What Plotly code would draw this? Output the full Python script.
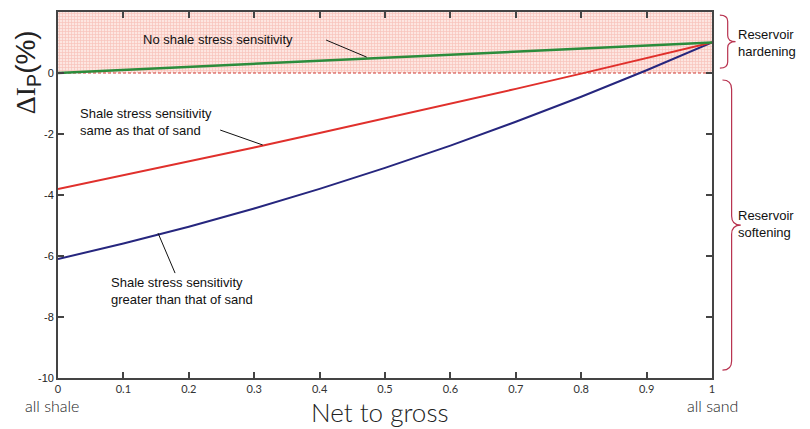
import plotly.graph_objects as go

# ---- data ----
net_to_gross = [0.0, 0.1, 0.2, 0.3, 0.4, 0.5, 0.6, 0.7, 0.8, 0.9, 1.0]
no_shale_sens = [0.0, 0.1, 0.2, 0.3, 0.4, 0.5, 0.6, 0.7, 0.8, 0.9, 1.0]
same_as_sand = [-3.80, -3.35, -2.90, -2.44, -1.97, -1.49, -1.01, -0.52, -0.02, 0.49, 1.0]
greater_than_sand = [-6.10, -5.59, -5.04, -4.44, -3.80, -3.11, -2.38, -1.60, -0.78, 0.09, 1.0]

x_ticks = [0, 0.1, 0.2, 0.3, 0.4, 0.5, 0.6, 0.7, 0.8, 0.9, 1]
x_tick_labels = ["0", "0.1", "0.2", "0.3", "0.4", "0.5", "0.6", "0.7", "0.8", "0.9", "1"]
y_ticks = [-10, -8, -6, -4, -2, 0, 2]
y_tick_labels = ["-10", "-8", "-6", "-4", "-2", "0", "2"]

hardening_x = [0, 1, 1, 0, 0]
hardening_y = [0, 0, 2, 2, 0]

GREEN = "#2b8c3c"
RED = "#e0302c"
BLUE = "#26267e"
BRACE = "#b8324f"

fig = go.Figure()

# shaded "hardening" region
fig.add_trace(go.Scatter(
    x=hardening_x, y=hardening_y, mode="lines", fill="toself",
    line=dict(width=0), fillcolor="rgba(0,0,0,0)",
    fillpattern=dict(shape="+", fgcolor="rgba(235,110,95,0.6)",
                     bgcolor="#fde6e1", size=3, solidity=0.4),
    hoverinfo="skip", showlegend=False))

# zero dashed line
fig.add_trace(go.Scatter(
    x=[0, 1], y=[0, 0], mode="lines",
    line=dict(color="#d03a34", width=1.2, dash="3px,2px"),
    showlegend=False, hoverinfo="skip"))

fig.add_trace(go.Scatter(x=net_to_gross, y=greater_than_sand, mode="lines",
                         line=dict(color=BLUE, width=2), showlegend=False))
fig.add_trace(go.Scatter(x=net_to_gross, y=same_as_sand, mode="lines",
                         line=dict(color=RED, width=2), showlegend=False))
fig.add_trace(go.Scatter(x=net_to_gross, y=no_shale_sens, mode="lines",
                         line=dict(color=GREEN, width=2.5), showlegend=False))

ann_font = dict(family="Liberation Sans, Arial", size=13, color="#111")
annotations = [
    dict(x=0.127, y=1.11, xref="x", yref="y", text="No shale stress sensitivity",
         showarrow=False, xanchor="left", yanchor="middle", font=ann_font),
    dict(x=0.031, y=-1.61, xref="x", yref="y",
         text="Shale stress sensitivity<br>same as that of sand",
         showarrow=False, xanchor="left", yanchor="middle", align="left", font=ann_font),
    dict(x=0.078, y=-7.15, xref="x", yref="y",
         text="Shale stress sensitivity<br>greater than that of sand",
         showarrow=False, xanchor="left", yanchor="middle", align="left", font=ann_font),
    dict(x=1.037, y=0.915, xref="paper", yref="paper", text="Reservoir<br>hardening",
         showarrow=False, xanchor="left", yanchor="middle", align="left", font=ann_font),
    dict(x=1.037, y=0.421, xref="paper", yref="paper", text="Reservoir<br>softening",
         showarrow=False, xanchor="left", yanchor="middle", align="left", font=ann_font),
    dict(x=0.492, y=-0.093, xref="paper", yref="paper", text="Net to gross",
         showarrow=False, xanchor="center", yanchor="middle",
         font=dict(family="Lato", size=26, color="#222", weight=300)),
    dict(x=-0.009, y=-0.0765, xref="paper", yref="paper", text="all shale",
         showarrow=False, xanchor="center", yanchor="middle",
         font=dict(family="Lato", size=16, color="#222", weight=300)),
    dict(x=1.0, y=-0.0765, xref="paper", yref="paper", text="all sand",
         showarrow=False, xanchor="center", yanchor="middle",
         font=dict(family="Lato", size=16, color="#222", weight=300)),
    dict(x=-0.047, y=0.836, xref="paper", yref="paper",
         text="<span style='font-family:Liberation Serif'>ΔI</span><sub>P</sub>(%)",
         textangle=-90, showarrow=False, xanchor="center", yanchor="middle",
         font=dict(family="Liberation Sans, Arial", size=28, color="#222")),
]

shapes = [
    # leader lines
    dict(type="line", xref="x", yref="y", x0=0.410, y0=1.08, x1=0.472, y1=0.52,
         line=dict(color="#111", width=1)),
    dict(type="line", xref="x", yref="y", x0=0.248, y0=-1.87, x1=0.313, y1=-2.36,
         line=dict(color="#111", width=1)),
    dict(type="line", xref="x", yref="y", x0=0.153, y0=-5.25, x1=0.179, y1=-6.56,
         line=dict(color="#111", width=1)),
]


def brace(x0, w, ytop, ybot, r):
    ym = (ytop + ybot) / 2
    xm = x0 + w / 2
    xt = x0 + w
    return (f"M {x0},{ytop} Q {xm},{ytop} {xm},{ytop - r} "
            f"L {xm},{ym + r} Q {xm},{ym} {xt},{ym} "
            f"Q {xm},{ym} {xm},{ym - r} "
            f"L {xm},{ybot + r} Q {xm},{ybot} {x0},{ybot}")


shapes.append(dict(type="path", xref="paper", yref="y",
                   path=brace(1.012, 0.024, 1.90, 0.16, 0.2),
                   line=dict(color=BRACE, width=1.2)))
shapes.append(dict(type="path", xref="paper", yref="y",
                   path=brace(1.016, 0.028, -0.23, -9.74, 0.3),
                   line=dict(color=BRACE, width=1.2)))

fig.update_layout(
    width=794, height=421,
    margin=dict(l=50, r=90, t=4, b=51),
    paper_bgcolor="white", plot_bgcolor="white",
    annotations=annotations, shapes=shapes,
    xaxis=dict(range=[0, 1], tickvals=x_ticks, ticktext=x_tick_labels,
               ticks="inside", ticklen=6, tickwidth=1.5, tickcolor="#444",
               showline=True, linecolor="#444", linewidth=1.8, mirror="ticks",
               showgrid=False, zeroline=False, automargin=False,
               tickfont=dict(family="Lato", size=11, color="#333")),
    yaxis=dict(range=[-10, 2], tickvals=y_ticks, ticktext=y_tick_labels,
               ticks="inside", ticklen=6, tickwidth=1.5, tickcolor="#444",
               showline=True, linecolor="#444", linewidth=1.8, mirror="ticks",
               showgrid=False, zeroline=False, automargin=False,
               tickfont=dict(family="Liberation Sans, Arial", size=11, color="#222")),
)

fig.write_html("out.html")
